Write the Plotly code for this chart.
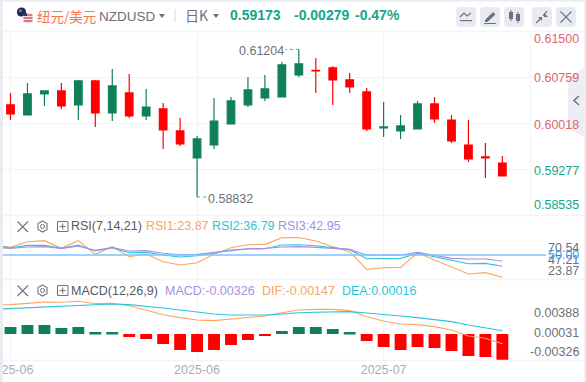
import plotly.graph_objects as go

W, H = 586, 382
opens = [0.60312,0.60151,0.60488,0.60537,0.60312,0.60697,0.60183,0.60505,0.60135,0.60247,0.59894,0.59460,0.59668,0.60006,0.60312,0.60424,0.60440,0.60794,0.60866,0.60907,0.60714,0.60521,0.59942,0.59894,0.59926,0.60328,0.60070,0.59668,0.59476,0.59379]
highs = [0.60505,0.60665,0.60537,0.60665,0.60714,0.60714,0.60890,0.60810,0.60569,0.60344,0.60103,0.59813,0.60424,0.60440,0.60762,0.60794,0.61003,0.61204,0.61067,0.60939,0.60826,0.60585,0.60360,0.60151,0.60376,0.60440,0.60151,0.60070,0.59700,0.59492]
lows = [0.60070,0.60151,0.60296,0.60247,0.60070,0.59958,0.60054,0.60103,0.60070,0.59604,0.59652,0.58832,0.59604,0.60006,0.60279,0.60376,0.60440,0.60762,0.60505,0.60312,0.60505,0.59894,0.59797,0.59765,0.59926,0.60022,0.59700,0.59395,0.59138,0.59170]
closes = [0.60167,0.60488,0.60537,0.60296,0.60697,0.60183,0.60617,0.60135,0.60279,0.59910,0.59684,0.59765,0.60054,0.60376,0.60553,0.60569,0.60955,0.60971,0.60858,0.60714,0.60601,0.59926,0.59958,0.59974,0.60328,0.60087,0.59733,0.59443,0.59460,0.59173]
rsi1 = [61.7,59.0,65.6,66.8,57.8,66.8,50.8,59.8,48.0,51.2,42.2,38.3,41.0,50.8,58.6,62.1,62.5,70.3,70.54,66.4,59.8,53.9,33.2,35.1,35.5,52.7,44.1,35.5,27.7,29.3,23.87]
rsi2 = [60.6,58.6,61.3,61.3,57.8,61.7,54.7,58.6,52.7,53.1,50.0,47.7,49.2,52.7,55.9,57.0,57.4,61.7,62.1,60.9,58.6,56.3,45.7,46.1,46.1,52.0,48.0,43.7,39.8,40.2,36.79]
rsi3 = [59.0,57.8,59.4,59.8,57.8,60.2,55.5,58.6,54.7,55.1,52.0,50.4,50.8,52.7,55.1,57.4,57.8,59.4,59.8,59.0,57.8,56.6,50.0,50.0,50.0,53.1,50.0,46.1,45.3,45.3,42.95]
hist = [0.00088,0.00113,0.00113,0.00075,0.00088,0.00025,0.00025,-0.00038,-0.00063,-0.00125,-0.00201,-0.00226,-0.00201,-0.00138,-0.00075,-0.00025,0.00038,0.00088,0.00088,0.00063,0.00025,-0.00088,-0.00163,-0.00201,-0.00163,-0.00176,-0.00213,-0.00276,-0.00288,-0.00326]
dif = [0.00339,0.00343,0.00359,0.00376,0.00372,0.00385,0.00355,0.00359,0.00330,0.00276,0.00217,0.00180,0.00150,0.00142,0.00159,0.00180,0.00201,0.00242,0.00276,0.00284,0.00284,0.00268,0.00192,0.00138,0.00100,0.00092,0.00067,0.00025,-0.00050,-0.00079,-0.00147]
dea = [0.00284,0.00293,0.00305,0.00318,0.00326,0.00334,0.00343,0.00351,0.00343,0.00326,0.00301,0.00276,0.00247,0.00226,0.00213,0.00209,0.00213,0.00226,0.00242,0.00247,0.00251,0.00255,0.00238,0.00222,0.00201,0.00180,0.00159,0.00130,0.00088,0.00054,0.00016]
date_ticks = [0, 11, 22]
date_labels = ["2025-06", "2025-06", "2025-07"]
price_ticks = [0.60759, 0.60018, 0.59277]

GREEN, RED = "#0f8058", "#ff0000"
ORANGE, CYAN, PURPLE = "#f9a662", "#2cc4de", "#a78fe3"
GRID = "#f2f4f8"
FONT = "Liberation Sans"
xs = list(range(30))
xl = list(range(-1, 30))
XR = [-0.442, 30.63]
XD = [3 / W, 530 / W]


def yd(top, bot):
    return [1 - bot / H, 1 - top / H]


fig = go.Figure()
fig.add_trace(go.Candlestick(x=xs, open=opens, high=highs, low=lows, close=closes, whiskerwidth=0,
                             increasing=dict(line=dict(color=GREEN, width=1.2), fillcolor=GREEN),
                             decreasing=dict(line=dict(color=RED, width=1.2), fillcolor=RED),
                             xaxis="x", yaxis="y", hoverinfo="skip"))
for vals, c in ((rsi1, ORANGE), (rsi2, CYAN), (rsi3, PURPLE)):
    fig.add_trace(go.Scatter(x=xl, y=vals, mode="lines", line=dict(color=c, width=1.1), xaxis="x2", yaxis="y2", hoverinfo="skip"))
fig.add_trace(go.Bar(x=xs, y=hist, width=0.7, marker=dict(color=[GREEN if v > 0 else RED for v in hist], line_width=0),
                     xaxis="x3", yaxis="y3", hoverinfo="skip"))
for vals, c in ((dif, ORANGE), (dea, CYAN)):
    fig.add_trace(go.Scatter(x=xl, y=vals, mode="lines", line=dict(color=c, width=1.1), xaxis="x3", yaxis="y4", hoverinfo="skip"))

ax = dict(range=XR, domain=XD, showgrid=True, gridcolor=GRID, gridwidth=1, tickmode="array", tickvals=date_ticks,
          showticklabels=False, ticks="", zeroline=False, showline=False, fixedrange=True)
ay = dict(showgrid=False, zeroline=False, showticklabels=False, ticks="", showline=False, fixedrange=True)
layout = dict(
    width=W, height=H, autosize=False, margin=dict(l=0, r=0, t=0, b=0), showlegend=False,
    paper_bgcolor="white", plot_bgcolor="rgba(0,0,0,0)", boxgap=0.36,
    font=dict(family=FONT, size=12),
    xaxis=dict(ax, anchor="y", rangeslider=dict(visible=False)),
    xaxis2=dict(ax, anchor="y2"),
    xaxis3=dict(ax, anchor="y3", showticklabels=True, ticktext=date_labels, tickfont=dict(size=12.5, color="#a9adb8", family=FONT), ticklabeloverflow="allow", automargin=False),
    yaxis=dict(ay, domain=yd(31, 215.5), range=[0.58535, 0.615], showgrid=True, gridcolor=GRID, tickmode="array", tickvals=price_ticks),
    yaxis2=dict(ay, domain=yd(215.5, 279), range=[21.9, 96.3]),
    yaxis3=dict(ay, domain=yd(279.5, 360), range=[-0.00326, 0.00683]),
    yaxis4=dict(ay, domain=yd(279.5, 360), range=[-0.00351, 0.00658], overlaying="y3"),
)
fig.update_layout(**layout)


def text(x, y, s, color, size=12.5, anchor="left", bold=False, fam=FONT):
    fig.add_annotation(x=x / W, y=1 - y / H, xref="paper", yref="paper", text=f"<b>{s}</b>" if bold else s, showarrow=False,
                       xanchor=anchor, yanchor="middle", xshift=0, font=dict(size=size, color=color, family=fam), borderpad=0, borderwidth=0)


def rect(x0, y0, x1, y1, fill, layer="above", radius=0):
    if radius:
        r = radius
        p = (f"M{x0+r},{y0} L{x1-r},{y0} Q{x1},{y0} {x1},{y0+r} L{x1},{y1-r} Q{x1},{y1} {x1-r},{y1} "
             f"L{x0+r},{y1} Q{x0},{y1} {x0},{y1-r} L{x0},{y0+r} Q{x0},{y0} {x0+r},{y0} Z")
        path(p, fill=fill, layer=layer)
    else:
        fig.add_shape(type="rect", xref="paper", yref="paper", x0=x0 / W, x1=x1 / W, y0=1 - y0 / H, y1=1 - y1 / H,
                      fillcolor=fill, line_width=0, layer=layer)


def path(p, fill=None, line=None, lw=1.2, layer="above"):
    # pixel path -> paper coordinates
    toks = p.replace(",", " ").split()
    out, isx = [], True
    for t in toks:
        if t[0].isalpha():
            cmd, t = t[0], t[1:]
            isx = True
            out.append(cmd)
            if not t:
                continue
        v = float(t)
        out.append(f"{v / W:.5f}," if isx else f"{1 - v / H:.5f}")
        isx = not isx
    d = " ".join(out).replace(", ", ",")
    fig.add_shape(type="path", xref="paper", yref="paper", path=d, fillcolor=fill or "rgba(0,0,0,0)",
                  line=dict(color=line or "rgba(0,0,0,0)", width=lw if line else 0), layer=layer)


def hline(y, x0, x1, color, lw=1):
    fig.add_shape(type="line", xref="paper", yref="paper", x0=x0 / W, x1=x1 / W, y0=1 - y / H, y1=1 - y / H,
                  line=dict(color=color, width=lw), layer="above")


# frame
FR = "#e9ecf3"
rect(0, 0, 3, H, FR)
rect(0, 0, W, 1.5, FR)
rect(584, 0, W, H, "#f0f1f5")
hline(31.5, 3, 584, GRID, 1.5)
hline(215.5, 3, 584, GRID, 1.5)
hline(279.5, 3, 584, GRID, 1.5)
hline(360.5, 3, 584, GRID, 1.5)
fig.add_shape(type="line", xref="paper", yref="paper", x0=530.5 / W, x1=530.5 / W, y0=1 - 31 / H, y1=1 - 215 / H,
              line=dict(color=GRID, width=1), layer="above")

# side tab
path("M584,68 L568,77 L568,128 L584,137 Z", fill="#eceef3")
path("M579,96 L574,100.5 L579,105", line="#71757f", lw=1.6)

# flag
path("M17,12 Q17,7.5 21.5,7.5 Q26,7.5 26,12 Q26,16.5 21.5,16.5 Q17,16.5 17,12 Z", fill="#1d2a5c")
path("M23,18 Q23,12.5 28,12.5 Q33,12.5 33,18 Q33,23.5 28,23.5 Q23,23.5 23,18 Z", fill="#f0e4e6")
for yy in (15, 18, 21):
    hline(yy, 23.5, 32.5, "#e0485a", 1.4)
path("M23.5,13 L27,13 L27,16 L23.5,16 Z", fill="#2b3a70")
path("M19,9.5 L22,9.5 L22,12 L19,12 Z", fill="#d94a58")

# header texts
text(37, 15.5, "纽元/美元", "#f5764f", 13.5, fam="Noto Sans CJK SC")
text(99, 16, "NZDUSD", "#6c7079", 13.5)
path("M159,14 L165,14 L162,18 Z", fill="#6c7079")
rect(174.5, 9, 175.5, 22, "#d5d8de")
text(185, 15, "日K", "#6c7079", 14, fam="Noto Sans CJK SC")
path("M213,14 L219,14 L216,18 Z", fill="#6c7079")
TEAL = "#14a68a"
text(230, 15, "0.59173", TEAL, 14, bold=True)
text(294, 15, "-0.00279", TEAL, 14, bold=True)
text(355, 15, "-0.47%", TEAL, 14, bold=True)

# toolbar
ICON = "#6e7280"
for x0 in (456, 480, 504, 532, 556):
    rect(x0, 7, x0 + 20, 27, "#e8ebf2", radius=4)
path("M460,17 L464,13 L467,16 L471,13", line=ICON)
rect(460, 20, 472, 21.2, ICON)
path("M485,20 L493,12 L495.5,14.5 L487.5,22 L485,22 Z", fill=ICON)
rect(484, 23, 496, 24, ICON)
rect(509, 12, 513, 19, ICON)
rect(516, 14, 520, 21, ICON)
rect(510.5, 10, 511.5, 21, ICON)
rect(517.5, 12, 518.5, 23, ICON)
path("M536,23 L541,18 M547,11 L543,16", line=ICON)
path("M538,17 L542,17 L542,21 Z", fill=ICON)
path("M544,13 L548,17 L544,17 Z", fill=ICON)
path("M560.5,11.5 L571.5,22.5 M571.5,11.5 L560.5,22.5", line=ICON, lw=1.1)

# axis labels
PR = "#e0626f"
for y, s, c in ((39, "0.61500", PR), (78.5, "0.60759", PR), (124.5, "0.60018", PR), (170.5, "0.59277", TEAL), (205, "0.58535", TEAL)):
    text(579, y, s, c, 12.5, anchor="right")

GL = "#6c7079"
for y, s in ((248, "70.54"), (259.5, "47.21"), (270.5, "23.87")):
    text(579, y, s, GL, 12.5, anchor="right")
text(579, 255, "50.00", "#3f9be8", 12.5, anchor="right")
for y, s in ((312.5, "0.00388"), (333, "0.00031"), (352, "-0.00326")):
    text(579, y, s, GL, 12.5, anchor="right")

# RSI reference line
fig.add_shape(type="line", xref="paper", yref="y2", x0=3 / W, x1=546 / W, y0=50, y1=50,
              line=dict(color="#7cc4f8", width=1.6), layer="above")

# extremes
fig.add_shape(type="line", xref="x", yref="y", x0=17, x1=16.2, y0=0.61204, y1=0.61204, line=dict(color="#8a8f99", width=1, dash="dot"))
fig.add_shape(type="line", xref="x", yref="y", x0=11, x1=11.7, y0=0.58832, y1=0.58832, line=dict(color="#8a8f99", width=1, dash="dot"))
text(239, 51, "0.61204", "#6c7079", 12.5)
text(208, 199, "0.58832", "#6c7079", 12.5)


# panel headers
def panel_icons(y):
    path(f"M17.5,{y-5} L28,{y+5.5} M28,{y-5} L17.5,{y+5.5}", line="#6e7280", lw=1.1)
    path(f"M42.5,{y-5.5} L47,{y-3} L47,{y+3} L42.5,{y+5.5} L38,{y+3} L38,{y-3} Z", line="#6e7280", lw=1.1)
    path(f"M40.5,{y} Q40.5,{y-2} 42.5,{y-2} Q44.5,{y-2} 44.5,{y} Q44.5,{y+2} 42.5,{y+2} Q40.5,{y+2} 40.5,{y} Z", line="#6e7280", lw=1)
    path(f"M57.5,{y-5} L68,{y-5} L68,{y+5} L57.5,{y+5} Z M62.7,{y-3} L62.7,{y+3} M59.7,{y} L65.7,{y}", line="#6e7280", lw=1)


panel_icons(226.5)
text(71, 226.5, "RSI(7,14,21)", "#555962", 12.5)
text(146, 226.5, "RSI1:23.87", ORANGE, 12.5)
text(212, 226.5, "RSI2:36.79", CYAN, 12.5)
text(278, 226.5, "RSI3:42.95", PURPLE, 12.5)
panel_icons(290.5)
text(71, 290.5, "MACD(12,26,9)", "#555962", 12.5)
text(165, 290.5, "MACD:-0.00326", PURPLE, 12.5)
text(262, 290.5, "DIF:-0.00147", ORANGE, 12.5)
text(342, 290.5, "DEA:0.00016", CYAN, 12.5)

fig.write_html("out.html", config=dict(displayModeBar=False),
               post_script="document.body.style.margin='0';document.body.style.overflow='hidden';")
